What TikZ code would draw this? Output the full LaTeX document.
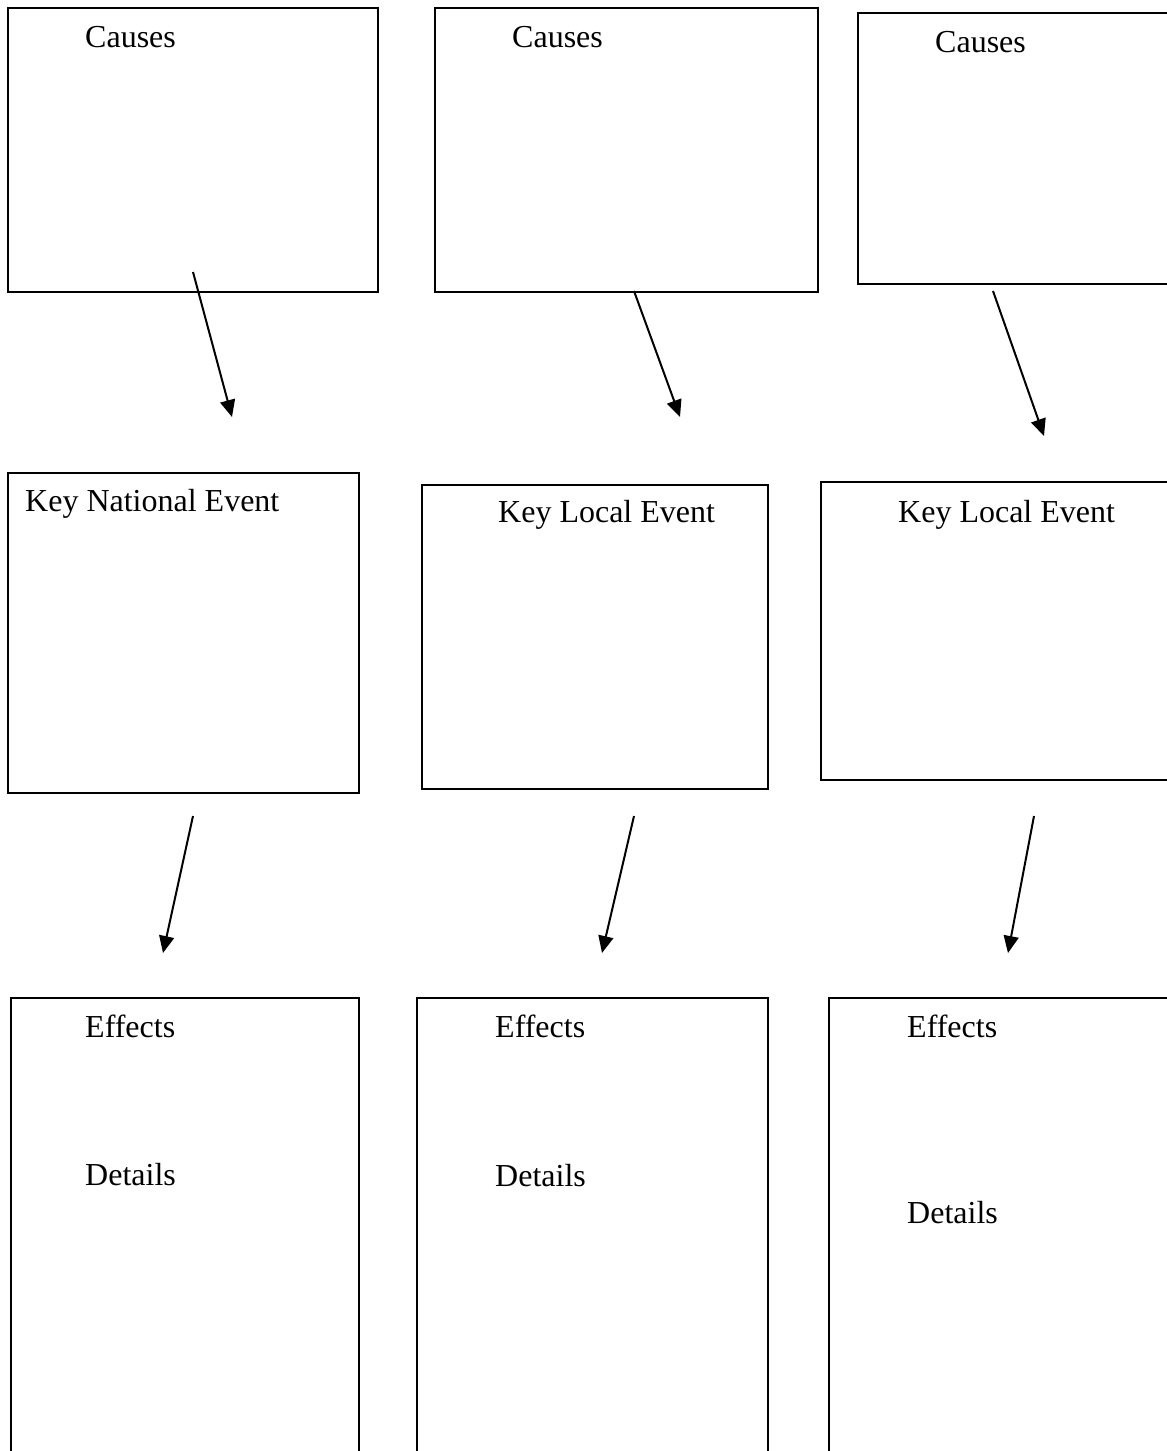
\documentclass[tikz,border=0pt]{standalone}
\usepackage{fontspec}
\setmainfont{Liberation Serif}
\usetikzlibrary{arrows.meta}
\begin{document}
\begin{tikzpicture}[x=1pt,y=-1pt,
  frame/.style={draw=black,line width=2pt,inner sep=0pt,anchor=north west},
  lbl/.style={anchor=base west,inner sep=0pt,font=\fontsize{32}{38}\selectfont},
  link/.style={line width=2pt,-{Triangle[length=17pt,width=15pt]}}]
\useasboundingbox (0,0) rectangle (1167,1451);
\clip (0,0) rectangle (1167,1451);
% top row: causes
\node[frame,minimum width=370pt,minimum height=284pt] (c1) at (7,7) {};
\node[frame,minimum width=383pt,minimum height=284pt] (c2) at (434,7) {};
\node[frame,minimum width=340pt,minimum height=271pt] (c3) at (857,12) {};
\node[lbl] (tc1) at (85,47) {Causes};
\node[lbl] (tc2) at (512,47) {Causes};
\node[lbl] (tc3) at (935,52) {Causes};
% middle row: key events
\node[frame,minimum width=351pt,minimum height=320pt] (k1) at (7,472) {};
\node[frame,minimum width=346pt,minimum height=304pt] (k2) at (421,484) {};
\node[frame,minimum width=370pt,minimum height=298pt] (k3) at (820,481) {};
\node[lbl] (tk1) at (25,511) {Key National Event};
\node[lbl] (tk2) at (498,522) {Key Local Event};
\node[lbl] (tk3) at (898,522) {Key Local Event};
% bottom row: effects
\node[frame,minimum width=348pt,minimum height=480pt] (e1) at (10,997) {};
\node[frame,minimum width=351pt,minimum height=480pt] (e2) at (416,997) {};
\node[frame,minimum width=370pt,minimum height=480pt] (e3) at (828,997) {};
\node[lbl] (te1) at (85,1037) {Effects};
\node[lbl] (te2) at (495,1037) {Effects};
\node[lbl] (te3) at (907,1037) {Effects};
\node[lbl] (td1) at (85,1185) {Details};
\node[lbl] (td2) at (495,1186) {Details};
\node[lbl] (td3) at (907,1223) {Details};
% connector end points
\coordinate (s1) at (193,272);  \coordinate (t1) at (232,417);
\coordinate (s2) at (634,291);  \coordinate (t2) at (680,417);
\coordinate (s3) at (993,291);  \coordinate (t3) at (1044,436);
\coordinate (s4) at (193,816);  \coordinate (t4) at (163,953);
\coordinate (s5) at (634,816);  \coordinate (t5) at (602,953);
\coordinate (s6) at (1034,816); \coordinate (t6) at (1008,953);
\draw[link] (s1) -- (t1);
\draw[link] (s2) -- (t2);
\draw[link] (s3) -- (t3);
\draw[link] (s4) -- (t4);
\draw[link] (s5) -- (t5);
\draw[link] (s6) -- (t6);
\end{tikzpicture}
\end{document}
